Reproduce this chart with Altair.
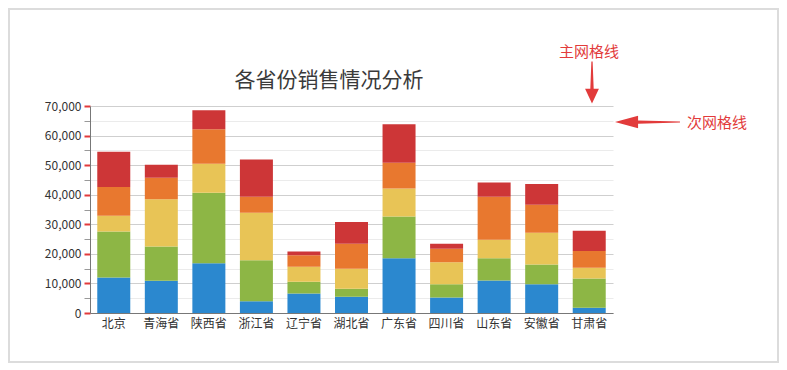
import altair as alt
import pandas as pd

provinces = ["北京", "青海省", "陕西省", "浙江省", "辽宁省", "湖北省",
             "广东省", "四川省", "山东省", "安徽省", "甘肃省"]
series_names = ["系列一", "系列二", "系列三", "系列四", "系列五"]
s1 = [12000, 10900, 16800, 4000, 6600, 5500, 18500, 5200, 11000, 9700, 1800]
s2 = [15600, 11600, 23900, 13800, 4000, 2700, 14100, 4500, 7500, 6700, 9900]
s3 = [5300, 16000, 9800, 16100, 5000, 6800, 9500, 7500, 6300, 10700, 3600]
s4 = [9700, 7200, 11600, 5400, 3900, 8400, 8700, 4500, 14500, 9500, 5700]
s5 = [11900, 4400, 6500, 12600, 1300, 7400, 13000, 1700, 4800, 7000, 6800]
series_values = [s1, s2, s3, s4, s5]
colors = ["#2b88cf", "#8db645", "#e8c456", "#e8782f", "#cd3637"]
y_tick_values = [0, 5000, 10000, 15000, 20000, 25000, 30000, 35000,
                 40000, 45000, 50000, 55000, 60000, 65000, 70000]
title_text = "各省份销售情况分析"
annotation_texts = ["主网格线", "次网格线"]

rows = []
for si, (name, vals) in enumerate(zip(series_names, series_values)):
    for p, v in zip(provinces, vals):
        rows.append({"省份": p, "系列": name, "序号": si, "销售额": v})
df = pd.DataFrame(rows)

FONT = "Noto Sans CJK SC"
RED = "#e23b3b"
major = "datum.value % 10000 === 0"

bars = alt.Chart(df).mark_bar(size=33).encode(
    x=alt.X("省份:N", sort=provinces,
            scale=alt.Scale(paddingInner=0, paddingOuter=0),
            axis=alt.Axis(title=None, labelAngle=0, ticks=False,
                          domainColor="#777777", labelColor="#333333",
                          labelFontSize=12, labelFont=FONT, labelPadding=5)),
    y=alt.Y("销售额:Q", stack="zero",
            scale=alt.Scale(domain=[0, 70000], nice=False, zero=True),
            axis=alt.Axis(title=None, values=y_tick_values,
                          labelExpr="datum.value % 10000 === 0 ? format(datum.value, ',') : ''",
                          labelColor="#333333", labelFontSize=12, labelFont=FONT,
                          labelPadding=3, domainColor="#777777",
                          tickSize=6,
                          tickColor={"condition": {"test": major, "value": RED}, "value": "#999999"},
                          tickWidth={"condition": {"test": major, "value": 2}, "value": 1},
                          gridColor={"condition": {"test": major, "value": "#cfcfcf"}, "value": "#ebebeb"},
                          gridWidth=1)),
    color=alt.Color("系列:N", scale=alt.Scale(domain=series_names, range=colors), legend=None),
    order=alt.Order("序号:Q", sort="ascending"),
)

title_df = pd.DataFrame({"t": [title_text]})
ann_df1 = pd.DataFrame({"t": [annotation_texts[0]]})
ann_df2 = pd.DataFrame({"t": [annotation_texts[1]]})

title = alt.Chart(title_df).mark_text(fontSize=21, font=FONT, color="#3a3a3a", align="center",
                                      baseline="middle").encode(
    text="t:N", x=alt.value(239), y=alt.value(-25))

text1 = alt.Chart(ann_df1).mark_text(fontSize=15, font=FONT, color=RED, align="center",
                                     baseline="middle").encode(
    text="t:N", x=alt.value(499), y=alt.value(-54))
text2 = alt.Chart(ann_df2).mark_text(fontSize=15, font=FONT, color=RED, align="left",
                                     baseline="middle").encode(
    text="t:N", x=alt.value(597), y=alt.value(17))

down_arrow = "M -0.03 -1 L 0.03 -1 L 0.08 0.3 L 0.33 0.3 L 0 1 L -0.33 0.3 L -0.08 0.3 Z"
left_arrow = "M -1 0 L -0.29 -0.19 L -0.29 -0.05 L 1 -0.015 L 1 0.015 L -0.29 0.05 L -0.29 0.19 Z"

arrow1 = alt.Chart(ann_df1).mark_point(shape=down_arrow, filled=True, size=1764,
                                       color=RED, opacity=1, strokeWidth=0).encode(
    x=alt.value(502), y=alt.value(-23.5))
arrow2 = alt.Chart(ann_df2).mark_point(shape=left_arrow, filled=True, size=4225,
                                       color=RED, opacity=1, strokeWidth=0).encode(
    x=alt.value(557.5), y=alt.value(16))

frame = alt.Chart(ann_df1).mark_rect(fill="transparent", stroke="#dcdcdc", strokeWidth=2).encode(
    x=alt.value(-81), x2=alt.value(688), y=alt.value(-97), y2=alt.value(256))

chart = alt.layer(frame, bars, title, text1, text2, arrow1, arrow2).properties(
    width=523, height=207,
    autosize=alt.AutoSizeParams(type="none"),
    padding={"left": 82, "top": 98, "right": 166, "bottom": 50},
    background="white",
).configure_view(stroke=None)

chart.save("out.html", embed_options={"renderer": "svg", "actions": False})
